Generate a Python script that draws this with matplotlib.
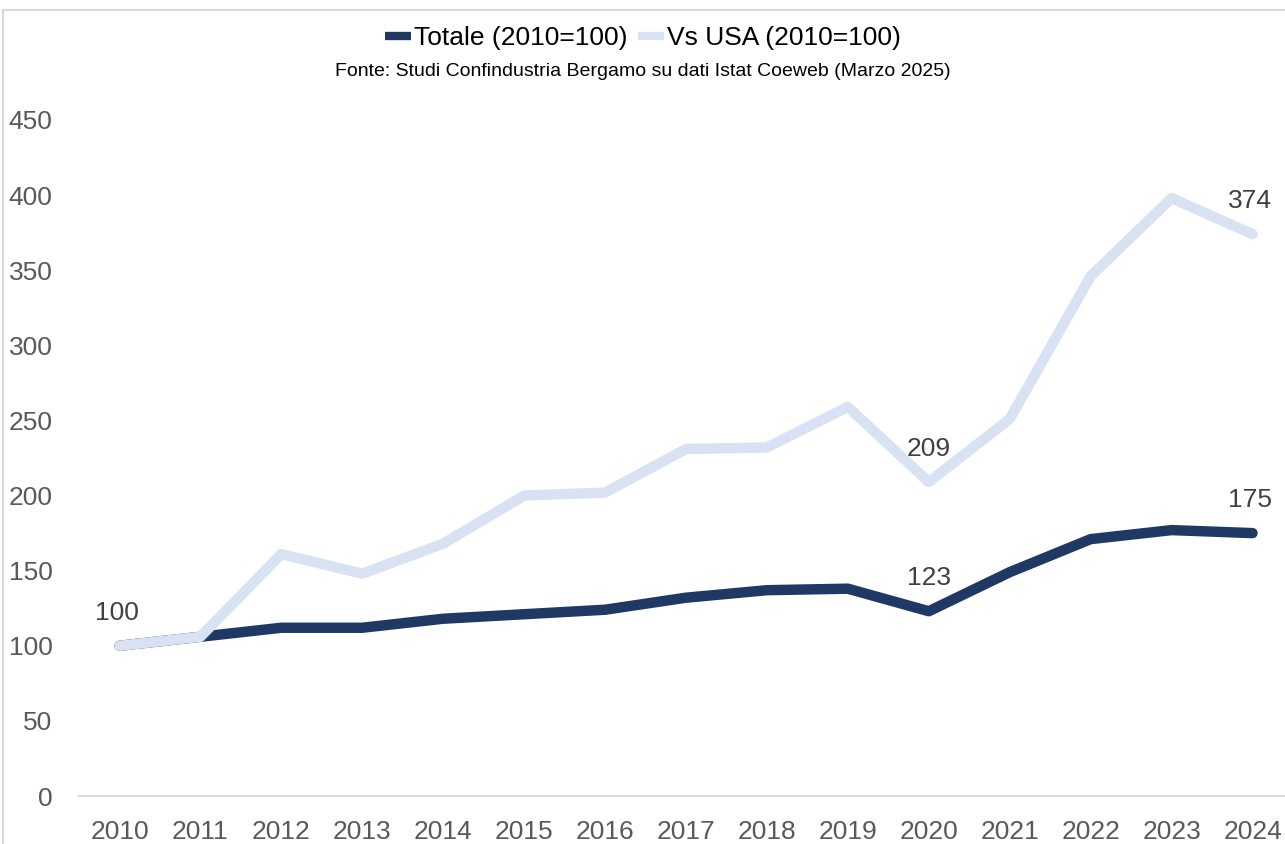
import matplotlib.pyplot as plt
from matplotlib.patches import Rectangle
from matplotlib.lines import Line2D
from matplotlib import font_manager

names = {f.name for f in font_manager.fontManager.ttflist}
narrow = 'Liberation Sans Narrow' if 'Liberation Sans Narrow' in names else 'Liberation Sans'
plt.rcParams['font.family'] = [narrow, 'DejaVu Sans']

years = ['2010', '2011', '2012', '2013', '2014', '2015', '2016', '2017',
         '2018', '2019', '2020', '2021', '2022', '2023', '2024']
totale = [100, 106, 112, 112, 118, 121, 124, 132, 137, 138, 123, 149, 171, 177, 175]
vs_usa = [100, 106, 161, 148, 168, 200, 202, 231, 232, 259, 209, 251, 346, 398, 374]

navy = '#1F3864'
light = '#D9E2F3'

fig = plt.figure(figsize=(12.85, 8.44), dpi=100)
fig.patches.append(Rectangle((3 / 1285, -0.1), 1.2, 1 - 10 / 844 + 0.1,
                             transform=fig.transFigure, fill=False,
                             edgecolor='#D9D9D9', linewidth=1.5))
ax = fig.add_axes([79 / 1285, 1 - 796 / 844, (1293 - 79) / 1285, (796 - 120) / 844])

x = list(range(len(years)))
ax.plot(x, totale, color=navy, lw=7.5, solid_capstyle='round',
        solid_joinstyle='round')
ax.plot(x, vs_usa, color=light, lw=7.5, solid_capstyle='round',
        solid_joinstyle='round')

ax.set_xlim(-0.5, 14.5)
ax.set_ylim(0, 450)
ax.set_yticks(range(0, 451, 50))
ax.set_xticks(x)
ax.set_xticklabels(years)
ax.tick_params(length=0, labelsize=19, colors='#595959')
ax.tick_params(axis='x', pad=17)
ax.tick_params(axis='y', pad=19)
for s in ['top', 'right', 'left']:
    ax.spines[s].set_visible(False)
ax.spines['bottom'].set_color('#D9D9D9')
ax.spines['bottom'].set_linewidth(1.5)

lab = dict(fontsize=19, color='#404040', ha='center', va='bottom',
           textcoords='offset points')
ax.annotate('100', (0, vs_usa[0]), xytext=(-2, 15), **lab)
ax.annotate('209', (10, vs_usa[10]), xytext=(0, 15), **lab)
ax.annotate('123', (10, totale[10]), xytext=(0, 15), **lab)
ax.annotate('374', (14, vs_usa[14]), xytext=(-2, 15), **lab)
ax.annotate('175', (14, totale[14]), xytext=(-2, 15), **lab)

handles = [Line2D([], [], color=navy, lw=6, solid_capstyle='butt'),
           Line2D([], [], color=light, lw=6, solid_capstyle='butt')]
fig.legend(handles, ['Totale (2010=100)', 'Vs USA (2010=100)'],
           loc='center', bbox_to_anchor=(0.5, 1 - 38 / 844), ncol=2, frameon=False,
           fontsize=19, handlelength=1.0, handletextpad=0.1, columnspacing=0.4,
           borderaxespad=0)
fig.text(0.5, 1 - 72 / 844, 'Fonte: Studi Confindustria Bergamo su dati Istat Coeweb (Marzo 2025)',
         ha='center', va='center', fontsize=14, color='black')

fig.savefig('out.png', dpi=100)
